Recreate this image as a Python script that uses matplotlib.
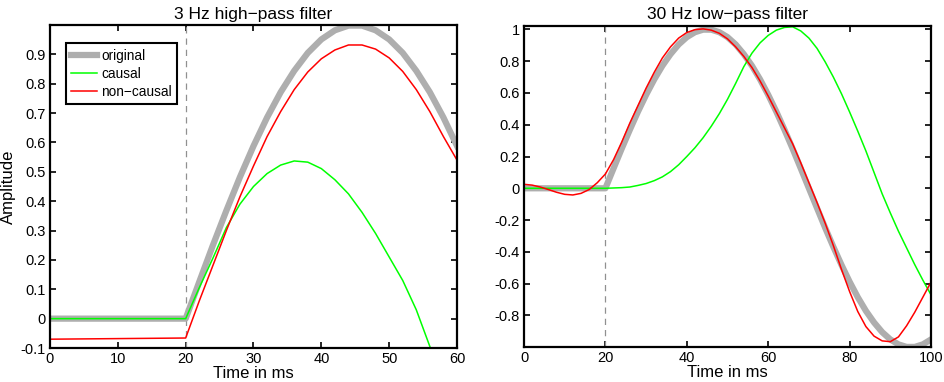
import matplotlib.pyplot as plt
from matplotlib.ticker import FormatStrFormatter

plt.rcParams['font.family'] = ['Liberation Sans', 'DejaVu Sans']

# time axis (ms)
t_flat = [0, 20]
t_hp = [20, 22, 24, 26, 28, 30, 32, 34, 36, 38, 40, 42, 44, 46, 48, 50, 52, 54, 56, 58, 60]
t_lp = [0, 2, 4, 6, 8, 10, 12, 14, 16, 18, 20, 22, 24, 26, 28, 30, 32, 34, 36, 38, 40,
        42, 44, 46, 48, 50, 52, 54, 56, 58, 60, 62, 64, 66, 68, 70, 72, 74, 76, 78, 80,
        82, 84, 86, 88, 90, 92, 94, 96, 98, 100]
t_orig_lp = [20, 22, 24, 26, 28, 30, 32, 34, 36, 38, 40, 42, 44, 46, 48, 50, 52, 54, 56, 58, 60,
             62, 64, 66, 68, 70, 72, 74, 76, 78, 80, 82, 84, 86, 88, 90, 92, 94, 96, 98, 100]

# original signal (flat, then one sine cycle starting at 20 ms)
orig_rise = [0, 0.125, 0.249, 0.368, 0.482, 0.588, 0.685, 0.771, 0.844, 0.905, 0.951,
             0.982, 0.998, 0.998, 0.982, 0.951, 0.905, 0.844, 0.771, 0.685, 0.588,
             0.482, 0.368, 0.249, 0.125, 0.0, -0.125, -0.249, -0.368, -0.482, -0.588,
             -0.685, -0.771, -0.844, -0.905, -0.951, -0.982, -0.998, -0.998, -0.982, -0.951]

# 3 Hz high-pass
hp_causal_flat = [0, 0]
hp_causal = [0, 0.105, 0.205, 0.31, 0.39, 0.45, 0.494, 0.523, 0.537, 0.533, 0.511,
             0.473, 0.425, 0.362, 0.29, 0.21, 0.13, 0.03, -0.095, -0.22, -0.35]
hp_noncausal_flat = [-0.07, -0.066]
hp_noncausal = [-0.066, 0.06, 0.18, 0.30, 0.415, 0.52, 0.62, 0.705, 0.78, 0.84, 0.885,
                0.915, 0.932, 0.932, 0.918, 0.888, 0.842, 0.78, 0.705, 0.62, 0.54]

# 30 Hz low-pass
lp_causal = [0, 0, 0, 0, 0, 0, 0, 0, 0, 0, 0, 0.002, 0.004, 0.008, 0.018, 0.03, 0.048,
             0.072, 0.105, 0.148, 0.2, 0.255, 0.318, 0.39, 0.47, 0.56, 0.66, 0.765, 0.85,
             0.915, 0.962, 0.995, 1.012, 1.016, 0.99, 0.945, 0.88, 0.795, 0.70, 0.595,
             0.48, 0.36, 0.235, 0.1, -0.035, -0.155, -0.27, -0.375, -0.48, -0.578, -0.67]
lp_noncausal = [0.025, 0.02, 0.008, -0.008, -0.025, -0.038, -0.042, -0.032, -0.008, 0.035,
                0.09, 0.18, 0.29, 0.41, 0.52, 0.63, 0.73, 0.82, 0.89, 0.945, 0.98, 0.998,
                1.003, 0.995, 0.975, 0.94, 0.89, 0.83, 0.76, 0.675, 0.58, 0.48, 0.38, 0.28,
                0.16, 0.035, -0.09, -0.22, -0.36, -0.51, -0.65, -0.775, -0.87, -0.93,
                -0.96, -0.965, -0.935, -0.865, -0.78, -0.685, -0.59]

gray = '#aeaeae'
green = '#00ff00'
red = '#ff0000'

fig = plt.figure(figsize=(9.45, 3.82), dpi=100)
ax1 = fig.add_axes([0.0529, 0.089, 0.4307, 0.8455])
ax2 = fig.add_axes([0.5545, 0.091, 0.4307, 0.8405])

# left panel
ax1.axvline(20, color='#909090', linestyle='--', linewidth=0.9, dashes=(5, 4))
ax1.plot(t_flat + t_hp[1:], [0, 0] + orig_rise[1:len(t_hp)], color=gray, linewidth=4.5,
         label='original', solid_joinstyle='round')
ax1.plot(t_flat + t_hp[1:], hp_causal_flat + hp_causal[1:], color=green, linewidth=1.1,
         label='causal')
ax1.plot(t_flat + t_hp[1:], hp_noncausal_flat + hp_noncausal[1:], color=red,
         linewidth=1.1, label='non\u2212causal')
ax1.set_xlim(0, 60)
ax1.set_ylim(-0.1, 1.0)
ax1.set_xticks([0, 10, 20, 30, 40, 50, 60])
ax1.set_yticks([-0.1, 0, 0.1, 0.2, 0.3, 0.4, 0.5, 0.6, 0.7, 0.8, 0.9])
ax1.set_title('3 Hz high\u2212pass filter', fontsize=12.5, pad=4)
ax1.set_xlabel('Time in ms', fontsize=12, labelpad=0)
ax1.set_ylabel('Amplitude', fontsize=12, labelpad=3)
leg = ax1.legend(loc='upper left', bbox_to_anchor=(0.039, 0.944), borderaxespad=0,
                 fontsize=9.8, fancybox=False, framealpha=1, edgecolor='black',
                 handlelength=1.9, handletextpad=0.3, labelspacing=0.3,
                 borderpad=0.4)
leg.get_frame().set_linewidth(1.5)

# right panel
ax2.axvline(20, color='#909090', linestyle='--', linewidth=0.9, dashes=(5, 4))
ax2.plot([0] + t_orig_lp, [0] + orig_rise, color=gray, linewidth=4.5,
         solid_joinstyle='round')
ax2.plot(t_lp, lp_causal, color=green, linewidth=1.1)
ax2.plot(t_lp, lp_noncausal, color=red, linewidth=1.1)
ax2.set_xlim(0, 100)
ax2.set_ylim(-1.0, 1.02)
ax2.set_xticks([0, 20, 40, 60, 80, 100])
ax2.set_yticks([-0.8, -0.6, -0.4, -0.2, 0, 0.2, 0.4, 0.6, 0.8, 1])
ax2.set_title('30 Hz low\u2212pass filter', fontsize=12.5, pad=5)
ax2.set_xlabel('Time in ms', fontsize=12, labelpad=0)

for ax in (ax1, ax2):
    ax.yaxis.set_major_formatter(FormatStrFormatter('%g'))
    ax.tick_params(direction='in', top=True, right=True, length=4, width=1.2,
                   labelsize=10.5, pad=3)
    for sp in ax.spines.values():
        sp.set_linewidth(1.6)

fig.savefig('out.png', dpi=100)
